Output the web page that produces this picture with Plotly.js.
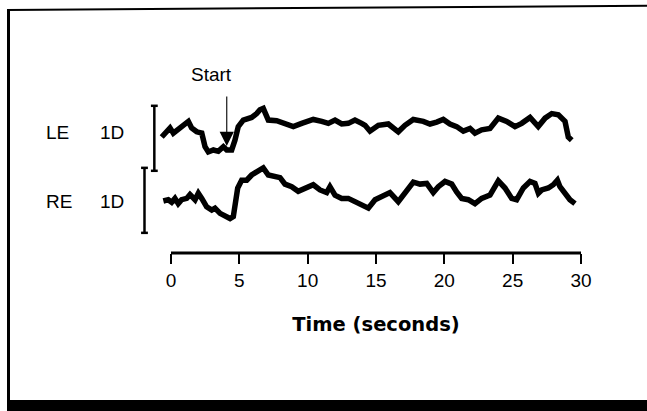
<!DOCTYPE html>
<html>
<head>
<meta charset="utf-8">
<script src="https://cdn.plot.ly/plotly-3.0.1.min.js"></script>
<style>
  html, body { margin: 0; padding: 0; background: #ffffff; overflow: hidden; }
  #wrap { position: relative; width: 647px; height: 411px; overflow: hidden; }
  #chart { width: 647px; height: 411px; }
  .frame-top { position: absolute; left: 7px; top: 9px; width: 660px; height: 0;
               border-top: 2.5px solid #000; transform-origin: 0 0; transform: rotate(-0.38deg);
               pointer-events: none; }
  .frame-left { position: absolute; left: 7px; top: 10px; width: 0; height: 391px;
                border-left: 3px solid #000; pointer-events: none; }
  .frame-bottom { position: absolute; left: 7px; top: 400px; width: 660px; height: 11px;
                  background: #000; pointer-events: none; }
</style>
</head>
<body>
<div id="wrap">
  <div id="chart"></div>
  <div class="frame-top"></div>
  <div class="frame-left"></div>
  <div class="frame-bottom"></div>
</div>
<script>
// ---- Data (time in seconds, accommodation change in diopters) ----
const leTime = [-0.68,-0.31,-0.07,0.17,0.53,0.90,1.27,1.51,1.88,2.25,2.49,2.73,3.10,3.46,3.83,4.08,4.44,4.68,4.92,5.29,5.90,6.27,6.51,6.75,7.12,7.73,8.34,8.95,9.56,10.41,11.03,11.51,12.00,12.49,12.97,13.46,13.95,14.20,14.56,15.17,15.90,16.63,17.12,17.73,18.46,18.95,19.44,19.92,20.41,20.90,21.39,21.88,22.24,22.73,23.34,23.95,24.56,25.17,25.66,26.27,26.87,27.37,27.86,28.34,28.83,28.95,29.07,29.32];
const leDiopters = [0.00,0.08,0.14,0.06,0.12,0.18,0.24,0.14,0.08,0.06,-0.15,-0.23,-0.20,-0.22,-0.15,-0.20,-0.20,-0.05,0.16,0.26,0.30,0.36,0.42,0.44,0.26,0.25,0.21,0.16,0.21,0.27,0.24,0.21,0.26,0.20,0.21,0.26,0.21,0.18,0.09,0.18,0.20,0.08,0.18,0.27,0.24,0.20,0.23,0.27,0.20,0.16,0.09,0.13,0.06,0.11,0.13,0.29,0.24,0.16,0.21,0.30,0.16,0.29,0.36,0.34,0.24,0.08,0.00,-0.05];

const reTime = [-0.56,-0.20,0.05,0.29,0.53,0.78,1.15,1.39,1.76,2.00,2.25,2.61,2.98,3.22,3.59,3.95,4.32,4.56,4.68,4.88,5.17,5.54,5.90,6.27,6.51,6.75,7.12,7.61,7.98,8.34,8.83,9.31,9.80,10.41,10.90,11.39,11.63,12.00,12.49,12.97,13.46,13.95,14.20,14.44,14.93,15.42,16.02,16.63,17.12,17.73,18.22,18.71,19.19,19.56,20.05,20.54,20.90,21.27,21.75,22.24,22.73,23.34,23.95,24.44,24.93,25.29,25.78,26.27,26.63,26.88,27.12,27.61,27.97,28.27,28.46,28.83,29.19,29.56];
const reDiopters = [0.00,0.02,-0.02,0.04,-0.04,0.02,0.04,0.10,0.02,0.12,0.04,-0.09,-0.14,-0.11,-0.19,-0.24,-0.27,-0.24,-0.01,0.20,0.32,0.32,0.40,0.45,0.48,0.51,0.40,0.37,0.36,0.26,0.22,0.15,0.20,0.25,0.17,0.13,0.22,0.09,0.04,0.04,-0.01,-0.06,-0.09,-0.11,0.02,0.07,0.13,-0.01,0.14,0.29,0.26,0.27,0.13,0.22,0.30,0.26,0.14,0.04,0.02,-0.04,0.04,0.09,0.31,0.20,0.04,0.02,0.20,0.30,0.27,0.12,0.17,0.20,0.25,0.32,0.22,0.12,0.02,-0.04];

const xTickVals = [0, 5, 10, 15, 20, 25, 30];
const xTickText = ['0', '5', '10', '15', '20', '25', '30'];
const startTime = 4.08;        // stimulus onset marked by the arrow
const scaleBarDiopters = 1;    // length of the "1D" calibration bars
const eyeLabels = ['LE', 'RE'];

// ---- Layout ----
const W = 647, H = 411;
const mL = 105, mR = 0, mT = 0, mB = 158;
const pw = W - mL - mR, ph = H - mT - mB;
const px = (x) => (x - mL) / pw;          // pixel -> paper x
const py = (y) => (H - mB - y) / ph;      // pixel -> paper y

const lineStyle = { color: '#000000', width: 5.5 };

const traces = [
  { x: leTime, y: leDiopters, type: 'scatter', mode: 'lines', name: 'LE',
    line: lineStyle, yaxis: 'y', hoverinfo: 'skip' },
  { x: reTime, y: reDiopters, type: 'scatter', mode: 'lines', name: 'RE',
    line: lineStyle, yaxis: 'y2', hoverinfo: 'skip' }
];

const leBarX = -1.22, reBarX = -1.94, capHalf = 0.25;
const leBarLow = -0.52, reBarLow = -0.49;

const shapes = [
  // time axis line from 0 to 30 s
  { type: 'line', xref: 'x', yref: 'paper', x0: xTickVals[0], x1: xTickVals[xTickVals.length - 1],
    y0: 0, y1: 0, line: { color: '#000', width: 3 } },
  // LE calibration bar
  { type: 'line', xref: 'x', yref: 'y', x0: leBarX, x1: leBarX, y0: leBarLow, y1: leBarLow + scaleBarDiopters, line: { color: '#000', width: 2.5 } },
  { type: 'line', xref: 'x', yref: 'y', x0: leBarX - capHalf, x1: leBarX + capHalf, y0: leBarLow + scaleBarDiopters, y1: leBarLow + scaleBarDiopters, line: { color: '#000', width: 2.5 } },
  { type: 'line', xref: 'x', yref: 'y', x0: leBarX - capHalf, x1: leBarX + capHalf, y0: leBarLow, y1: leBarLow, line: { color: '#000', width: 2.5 } },
  // RE calibration bar
  { type: 'line', xref: 'x', yref: 'y2', x0: reBarX, x1: reBarX, y0: reBarLow, y1: reBarLow + scaleBarDiopters, line: { color: '#000', width: 2.5 } },
  { type: 'line', xref: 'x', yref: 'y2', x0: reBarX - capHalf, x1: reBarX + capHalf, y0: reBarLow + scaleBarDiopters, y1: reBarLow + scaleBarDiopters, line: { color: '#000', width: 2.5 } },
  { type: 'line', xref: 'x', yref: 'y2', x0: reBarX - capHalf, x1: reBarX + capHalf, y0: reBarLow, y1: reBarLow, line: { color: '#000', width: 2.5 } }
];

const labelFont = { family: 'Liberation Sans, Arial, sans-serif', size: 19, color: '#000' };

const annotations = [
  { xref: 'paper', yref: 'paper', x: px(57.5), y: py(132.5), text: eyeLabels[0], showarrow: false, font: labelFont, xanchor: 'center', yanchor: 'middle' },
  { xref: 'paper', yref: 'paper', x: px(111.7), y: py(132.5), text: scaleBarDiopters + 'D', showarrow: false, font: labelFont, xanchor: 'center', yanchor: 'middle' },
  { xref: 'paper', yref: 'paper', x: px(59.2), y: py(201), text: eyeLabels[1], showarrow: false, font: labelFont, xanchor: 'center', yanchor: 'middle' },
  { xref: 'paper', yref: 'paper', x: px(111.7), y: py(201), text: scaleBarDiopters + 'D', showarrow: false, font: labelFont, xanchor: 'center', yanchor: 'middle' },
  { xref: 'paper', yref: 'paper', x: px(211.7), y: py(75), text: 'Start', showarrow: false, font: labelFont, xanchor: 'center', yanchor: 'middle' },
  // arrow pointing at the LE trace at stimulus onset
  { xref: 'x', yref: 'y', x: startTime, y: -0.14, text: '', showarrow: true, ax: 0, ay: -51,
    arrowhead: 2, arrowsize: 2.6, arrowwidth: 1.1, arrowcolor: '#000', standoff: 0 }
];

const layout = {
  width: W, height: H,
  margin: { l: mL, r: mR, t: mT, b: mB, pad: 0 },
  paper_bgcolor: 'rgba(0,0,0,0)', plot_bgcolor: 'rgba(0,0,0,0)',
  showlegend: false,
  xaxis: {
    range: [(mL - 171) / 13.667, (W - 171) / 13.667],
    tickmode: 'array', tickvals: xTickVals, ticktext: xTickText,
    ticks: 'outside', ticklen: 10, tickwidth: 2, tickcolor: '#000',
    showline: false, showgrid: false, zeroline: false,
    tickfont: labelFont,
    title: { text: 'Time (seconds)', standoff: 27,
             font: { family: 'DejaVu Sans, sans-serif', size: 19.5, color: '#000', weight: 'bold' } },
    fixedrange: true
  },
  yaxis: { range: [(137 - 253) / 65, 137 / 65], visible: false, fixedrange: true },
  yaxis2: { range: [(201 - 253) / 65, 201 / 65], visible: false, overlaying: 'y', fixedrange: true },
  shapes: shapes,
  annotations: annotations
};

Plotly.newPlot('chart', traces, layout, { displayModeBar: false, staticPlot: true });
</script>
</body>
</html>
